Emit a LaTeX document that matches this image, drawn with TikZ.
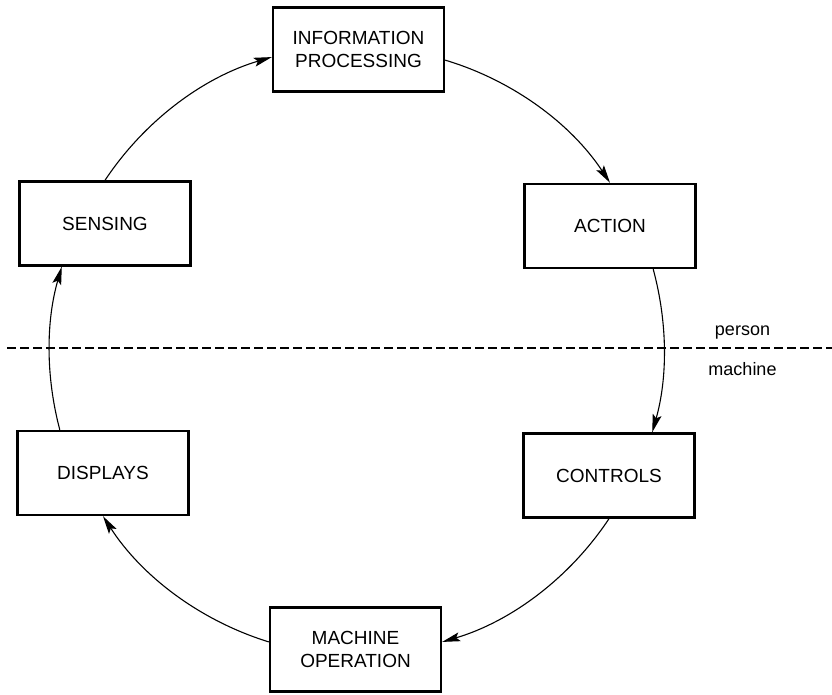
\documentclass[tikz,border=0pt]{standalone}
\usepackage{fontspec}
\setmainfont{Liberation Sans}
\usetikzlibrary{arrows.meta}
\tikzset{
  stagebox/.style={draw, line width=2.4pt, minimum width=171pt, minimum height=84pt,
    align=center, inner sep=0pt, font=\fontsize{19}{23}\selectfont},
  cycleline/.style={line width=1.1pt, -{Stealth[length=18pt,width=9pt,inset=3.5pt]},
    bend left=20, looseness=0.88},
  sidelabel/.style={inner sep=0pt, font=\fontsize{18}{22}\selectfont}
}
\begin{document}
\begin{tikzpicture}[x=1pt,y=1pt]
\useasboundingbox (0,0) rectangle (832,694);
% the six stages round the loop
\node[stagebox] (info) at (358.5,644.5) {INFORMATION\\PROCESSING};
\node[stagebox] (sensing) at (105,470.5) {SENSING};
\node[stagebox] (action) at (610,468) {ACTION};
\node[stagebox] (displays) at (103,221) {DISPLAYS};
\node[stagebox] (controls) at (609,218.5) {CONTROLS};
\node[stagebox] (machine) at (355.5,44.5) {MACHINE\\OPERATION};
% the loop, clockwise
\draw[cycleline] (sensing.north) to (info.185);
\draw[cycleline] (info.-7) to (action.north);
\draw[cycleline] (action.-45) to[bend left=15.5] (controls.45);
\draw[cycleline] (controls.south) to (machine.5);
\draw[cycleline] (machine.175) to (displays.south);
\draw[cycleline] (displays.135) to[bend left=15.5] (sensing.-135);
% person / machine split
\coordinate (dashL) at (7,346);
\coordinate (dashR) at (832,346);
\draw[line width=1.2pt, dash pattern=on 8.5pt off 4.5pt] (dashL) -- (dashR);
\node[sidelabel, anchor=base] (personlbl) at (742.5,358) {person};
\node[sidelabel, anchor=north] (machinelbl) at (742.5,332) {machine};
\end{tikzpicture}
\end{document}
